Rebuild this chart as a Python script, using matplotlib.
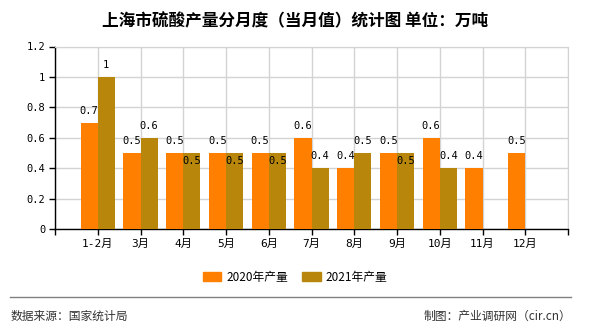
import numpy as np
import matplotlib.pyplot as plt
from matplotlib.patches import Patch

months = ['1-2月', '3月', '4月', '5月', '6月', '7月', '8月', '9月', '10月', '11月', '12月']
output_2020 = [0.7, 0.5, 0.5, 0.5, 0.5, 0.6, 0.4, 0.5, 0.6, 0.4, 0.5]
output_2021 = [1, 0.6, 0.5, 0.5, 0.5, 0.4, 0.5, 0.5, 0.4, None, None]
yticks = [0, 0.2, 0.4, 0.6, 0.8, 1, 1.2]

c2020 = '#FF8000'
c2021 = '#B8860B'
mono = ['DejaVu Sans Mono', 'Noto Sans CJK SC']
cjk = ['Noto Sans CJK SC', 'DejaVu Sans']

fig = plt.figure(figsize=(5.9, 3.3), dpi=100)
ax = fig.add_axes([55 / 590, (330 - 229.3) / 330, 513 / 590, (229.3 - 46.5) / 330])

x = np.arange(len(months))
w = 0.4
for i in range(len(months)):
    a = output_2020[i]
    ax.bar(x[i] - w / 2, a, w, color=c2020, zorder=3)
    ax.annotate(f'{a:g}', (x[i] - w / 2, a), xytext=(0, 8.6), textcoords='offset points',
                ha='center', va='center', fontsize=7.5, family=mono, zorder=4)
    b = output_2021[i]
    if b is None:
        continue
    ax.bar(x[i] + w / 2, b, w, color=c2021, zorder=3)
    # same value as 2020 -> label pushed down into the bar, like the original
    off = -5.8 if b == a else 8.6
    ax.annotate(f'{b:g}', (x[i] + w / 2, b), xytext=(0, off), textcoords='offset points',
                ha='center', va='center', fontsize=7.5, family=mono, zorder=4)

ax.set_xlim(-1, len(months))
ax.set_ylim(0, 1.2)
ax.set_yticks(yticks)
ax.set_yticklabels([f'{v:g}' for v in yticks], family=mono, fontsize=7.5)
ax.set_xticks(np.arange(-1, len(months) + 1))
ax.set_xticklabels([''] + months + [''], family=mono, fontsize=8)
ax.grid(True, color='#D3D3D3', linewidth=1, zorder=0)
ax.tick_params(length=4, width=1, color='black', pad=3)
for s in ['top', 'right']:
    ax.spines[s].set_color('#D3D3D3')
for s in ['left', 'bottom']:
    ax.spines[s].set_color('black')
    ax.spines[s].set_linewidth(1)

fig.text(0.5, 1 - 21 / 330, '上海市硫酸产量分月度（当月值）统计图 单位：万吨',
         ha='center', va='center', fontsize=12, fontweight='bold', family=cjk)

handles = [Patch(color=c2020, label='2020年产量'), Patch(color=c2021, label='2021年产量')]
fig.legend(handles=handles, loc='center', bbox_to_anchor=(0.5, 1 - 277 / 330), ncol=2,
           frameon=False, prop={'family': cjk, 'size': 8.5}, handlelength=1.6,
           handleheight=0.8, columnspacing=1.2, handletextpad=0.4)

fig.add_artist(plt.Line2D([10 / 590, 571 / 590], [1 - 297 / 330] * 2, color='#808080', linewidth=1))
fig.text(11 / 590, 1 - 316 / 330, '数据来源：国家统计局', ha='left', va='center',
         fontsize=8.5, family=cjk, color='#333333')
fig.text(571 / 590, 1 - 316 / 330, '制图：产业调研网（cir.cn）', ha='right', va='center',
         fontsize=8.5, family=cjk, color='#333333')

fig.savefig('out.png', dpi=100)
